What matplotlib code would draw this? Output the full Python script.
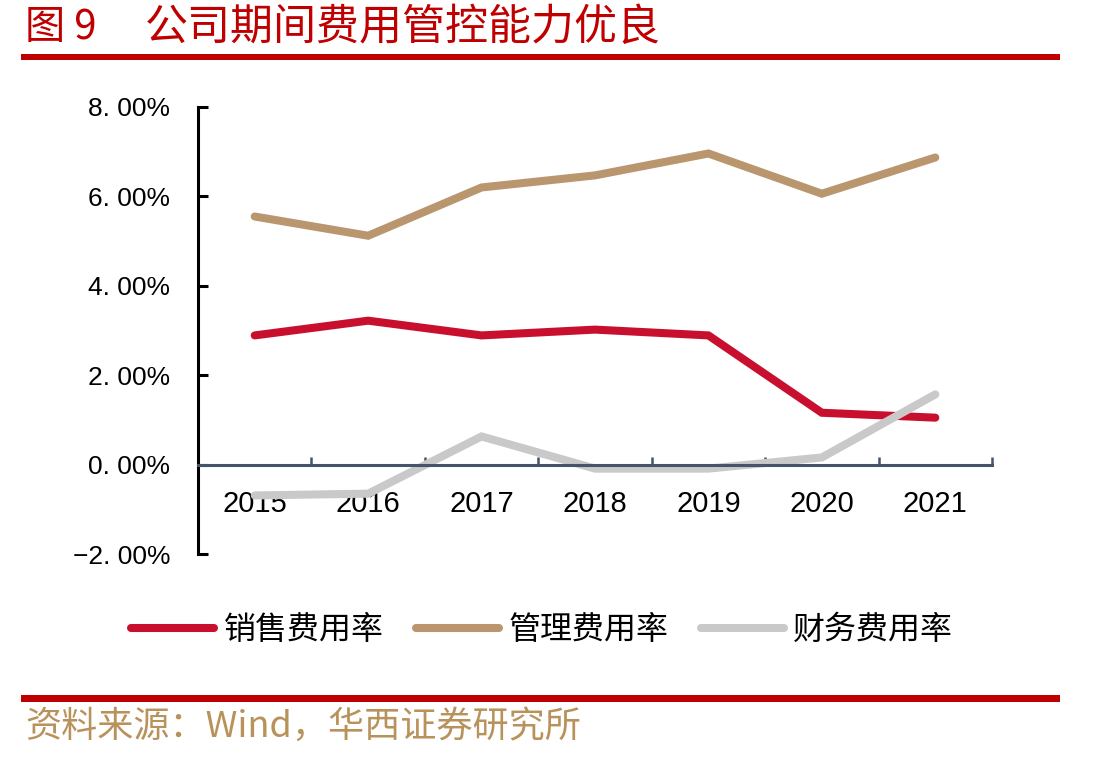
import matplotlib
matplotlib.use("Agg")
import matplotlib.pyplot as plt
from matplotlib.patches import Rectangle

plt.rcParams['font.family'] = ['Noto Sans CJK SC', 'DejaVu Sans']

years = ["2015", "2016", "2017", "2018", "2019", "2020", "2021"]
sales = [2.89, 3.22, 2.89, 3.02, 2.89, 1.16, 1.05]
admin = [5.55, 5.12, 6.20, 6.47, 6.96, 6.06, 6.87]
finance = [-0.69, -0.65, 0.63, -0.09, -0.09, 0.16, 1.57]
series_names = ["销售费用率", "管理费用率", "财务费用率"]
y_ticks = [-2, 0, 2, 4, 6, 8]
y_labels = ["\u22122. 00%", "0. 00%", "2. 00%", "4. 00%", "6. 00%", "8. 00%"]

colors = ["#C8102E", "#B9966E", "#C9C9C9"]

W, H = 1109, 759
fig = plt.figure(figsize=(W / 100, H / 100), dpi=100)
ax = fig.add_axes([198 / W, 1 - 554 / H, (992 - 198) / W, (554 - 107) / H])

x = list(range(len(years)))
for vals, c, name in zip([sales, admin, finance], colors, series_names):
    ax.plot(x, vals, color=c, lw=5.8, solid_capstyle='round', solid_joinstyle='miter', label=name)

ax.set_xlim(-0.5, len(years) - 0.5)
ax.set_ylim(-2, 8)

for s in ['top', 'right']:
    ax.spines[s].set_visible(False)
ax.spines['bottom'].set_position(('data', 0))
ax.spines['bottom'].set_color('#44546A')
ax.spines['bottom'].set_linewidth(2.2)
ax.spines['left'].set_color('black')
ax.spines['left'].set_linewidth(2.2)

latin = ['Liberation Sans', 'DejaVu Sans']
ax.set_yticks(y_ticks)
ax.set_yticklabels(y_labels, family=latin, fontsize=19)
ax.tick_params(axis='y', direction='in', length=7, width=2.2, color='black', pad=20)

ax.set_xticks(x)
ax.set_xticklabels(years, family=latin, fontsize=21)
ax.tick_params(axis='x', which='major', length=0, pad=18)
ax.set_xticks([i - 0.5 for i in range(len(years) + 1)], minor=True)
ax.tick_params(axis='x', which='minor', direction='in', length=6, width=1.8, color='#44546A')

# Legend
fig.legend(loc='center', bbox_to_anchor=(0.489, 1 - 630 / H), ncol=3, frameon=False,
           fontsize=23, handlelength=2.6, handletextpad=0.3, columnspacing=1.0)

# Title and rules
fig.text(25 / W, 1 - 28 / H, "图 9", color='#C00000', fontsize=29, va='center', ha='left')
fig.text(145 / W, 1 - 28 / H, "公司期间费用管控能力优良", color='#C00000', fontsize=31, va='center', ha='left')
fig.add_artist(Rectangle((21 / W, 1 - 60 / H), (1060 - 21) / W, 6 / H, transform=fig.transFigure,
                         color='#C00000', lw=0))
fig.add_artist(Rectangle((21 / W, 1 - 702 / H), (1060 - 21) / W, 7 / H, transform=fig.transFigure,
                         color='#C00000', lw=0))
fig.text(25 / W, 1 - 727 / H, "资料来源：Wind，华西证券研究所", color='#B8925A', fontsize=26,
         va='center', ha='left')

fig.savefig("out.png", dpi=100)
